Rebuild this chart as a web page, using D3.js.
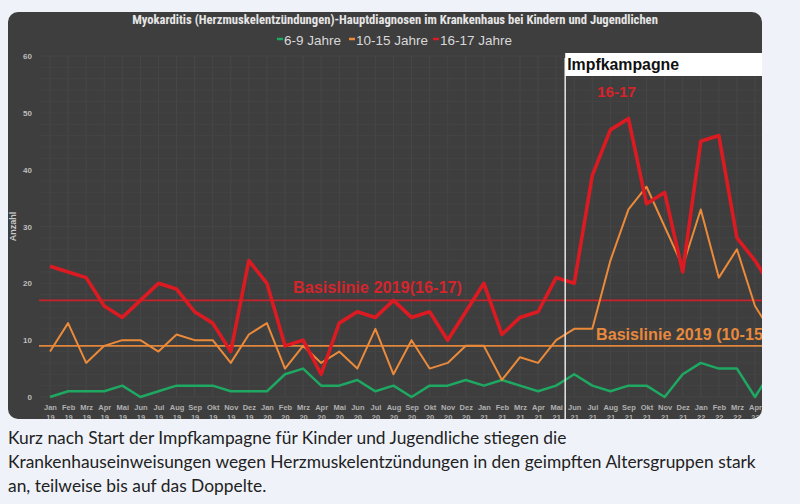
<!DOCTYPE html>
<html><head><meta charset="utf-8">
<script src="https://cdn.jsdelivr.net/npm/d3@7"></script>
<style>
html,body{margin:0;padding:0;background:#eff3f9;}
svg{display:block;}
</style></head>
<body>
<svg id="c" width="800" height="504"></svg>
<script>
const monthLabels = ["Jan","Feb","Mrz","Apr","Mai","Jun","Jul","Aug","Sep","Okt","Nov","Dez",
 "Jan","Feb","Mrz","Apr","Mai","Jun","Jul","Aug","Sep","Okt","Nov","Dez",
 "Jan","Feb","Mrz","Apr","Mai","Jun","Jul","Aug","Sep","Okt","Nov","Dez",
 "Jan","Feb","Mrz","Apr","Mai"];
const yearLabels = ["19","19","19","19","19","19","19","19","19","19","19","19",
 "20","20","20","20","20","20","20","20","20","20","20","20",
 "21","21","21","21","21","21","21","21","21","21","21","21",
 "22","22","22","22","22"];
const age6_9   = [0,1,1,1,2,0,1,2,2,2,1,1, 1,4,5,2,2,3,1,2,0,2,2,3, 2,3,2,1,2,4,2,1,2,2,0,4, 6,5,5,0,5];
const age10_15 = [8,13,6,9,10,10,8,11,10,10,6,11, 13,5,9,6,8,5,12,4,10,5,6,9, 9,3,7,6,10,12,12,24,33,37,30,23, 33,21,26,16,11];
const age16_17 = [23,22,21,16,14,17,20,19,15,13,8,24, 20,9,10,4,13,15,14,17,14,15,10,15, 20,11,14,15,21,20,39,47,49,34,36,22, 45,46,28,24,19];
const baseline16_17 = 17;
const baseline10_15 = 9;
const yTicks = [0,10,20,30,40,50,60];
const seriesNames = ["6-9 Jahre","10-15 Jahre","16-17 Jahre"];
const campaignIndex = 28.5; // between Mai 21 and Jun 21

const svg = d3.select("#c");
const panel = {x0:8,y0:12,x1:762,y1:419};
const colors = {green:"#1ea862", orange:"#ec8a3a", red:"#dc1a22"};

const x = d3.scaleLinear().domain([0,39]).range([50,755]);
const y = d3.scaleLinear().domain([0,60]).range([397,56]);

function fitWidth(sel, size, target){
  sel.attr("font-size", size);
  const w = sel.node().getComputedTextLength();
  sel.attr("font-size", size*target/w);
}

// panel
svg.append("rect").attr("x",panel.x0).attr("y",panel.y0).attr("width",panel.x1-panel.x0).attr("height",panel.y1-panel.y0)
  .attr("rx",10).attr("fill","#3e3e3e");
svg.append("clipPath").attr("id","pc").append("rect")
  .attr("x",panel.x0).attr("y",panel.y0).attr("width",panel.x1-panel.x0).attr("height",panel.y1-panel.y0).attr("rx",10);
const g = svg.append("g").attr("clip-path","url(#pc)");

// faint grid
const idx = d3.range(monthLabels.length);
g.append("g").selectAll("line").data(idx).join("line")
  .attr("x1",d=>x(d)).attr("x2",d=>x(d)).attr("y1",y(60)).attr("y2",y(0))
  .attr("stroke","#474747").attr("stroke-width",1);
g.append("g").selectAll("line").data(d3.range(0,61,2)).join("line")
  .attr("x1",40).attr("x2",panel.x1).attr("y1",d=>y(d)).attr("y2",d=>y(d))
  .attr("stroke","#444").attr("stroke-width",1);

// title
const title = svg.append("text").attr("x",395).attr("y",24).attr("text-anchor","middle")
  .attr("font-family","'Liberation Sans Narrow','Roboto Condensed',sans-serif").attr("font-weight","bold")
  .attr("fill","#e6e6e6")
  .text("Myokarditis (Herzmuskelentzündungen)-Hauptdiagnosen im Krankenhaus bei Kindern und Jugendlichen");
fitWidth(title, 11, 526);

// legend
const legCols=[colors.green,colors.orange,colors.red];
const legX=[277,349,433];
const leg = svg.append("g");
seriesNames.forEach((n,i)=>{
  leg.append("line").attr("x1",legX[i]).attr("x2",legX[i]+6).attr("y1",39).attr("y2",39)
    .attr("stroke",legCols[i]).attr("stroke-width",2.5);
  leg.append("text").attr("x",legX[i]+7).attr("y",44.5).attr("font-family","'Liberation Sans Narrow',sans-serif")
    .attr("font-size",13.5).attr("fill","#d8d8d8").text(n);
});

// y axis
const yAxis = d3.axisLeft(y).tickValues(yTicks).tickSize(0).tickPadding(0);
const ya = svg.append("g").attr("transform","translate(32,0)").call(yAxis);
ya.select(".domain").remove();
ya.selectAll("text").attr("font-family","'Liberation Sans',Arial,sans-serif").attr("font-weight","bold")
  .attr("font-size",8).attr("fill","#bdbdbd").attr("dy","0.32em");
svg.append("text").attr("transform","translate(16,"+y(30)+") rotate(-90)").attr("text-anchor","middle")
  .attr("font-family","'Liberation Sans',Arial,sans-serif").attr("font-weight","bold").attr("font-size",9)
  .attr("fill","#c8c8c8").text("Anzahl");

// x axis
const xAxis = d3.axisBottom(x).tickValues(idx).tickSize(0).tickPadding(0).tickFormat(d=>monthLabels[d]);
const xa = g.append("g").attr("transform","translate(0,405)").call(xAxis);
xa.select(".domain").remove();
xa.selectAll("text").attr("font-family","'Liberation Sans',Arial,sans-serif").attr("font-weight","bold")
  .attr("font-size",7.5).attr("fill","#b0b0b0").attr("dy","0.71em")
  .each(function(d){
    const t=d3.select(this); t.text(null);
    t.append("tspan").attr("x",0).text(monthLabels[d]);
    t.append("tspan").attr("x",0).attr("dy","10").text(yearLabels[d]);
  });

// baselines
g.append("line").attr("x1",39).attr("x2",panel.x1).attr("y1",y(baseline16_17)).attr("y2",y(baseline16_17))
  .attr("stroke","#c8232b").attr("stroke-width",1.6);
g.append("line").attr("x1",39).attr("x2",panel.x1).attr("y1",y(baseline10_15)).attr("y2",y(baseline10_15))
  .attr("stroke","#e0873c").attr("stroke-width",1.6);

// lines
const line = d3.line().x((d,i)=>x(i)).y(d=>y(d));
g.append("path").datum(age6_9).attr("d",line).attr("fill","none").attr("stroke",colors.green).attr("stroke-width",2.5).attr("stroke-linejoin","round");
g.append("path").datum(age10_15).attr("d",line).attr("fill","none").attr("stroke",colors.orange).attr("stroke-width",2).attr("stroke-linejoin","round");
g.append("path").datum(age16_17).attr("d",line).attr("fill","none").attr("stroke",colors.red).attr("stroke-width",3.6).attr("stroke-linejoin","round");

// campaign marker
const cx = x(campaignIndex);
g.append("line").attr("x1",cx).attr("x2",cx).attr("y1",58).attr("y2",panel.y1).attr("stroke","#e8e8e8").attr("stroke-width",1.5);
g.append("rect").attr("x",cx).attr("y",53).attr("width",panel.x1-cx).attr("height",23).attr("fill","#ffffff");
const imp = g.append("text").attr("x",cx+2).attr("y",70).attr("font-family","'Liberation Sans',Arial,sans-serif").attr("font-weight","bold")
  .attr("fill","#111").text("Impfkampagne");
fitWidth(imp, 15, 112);
const l1617 = g.append("text").attr("x",597).attr("y",97).attr("font-family","'Liberation Sans',Arial,sans-serif").attr("font-weight","bold")
  .attr("fill","#d8222a").text("16-17");
fitWidth(l1617, 14, 39);

// baseline labels
const b1 = g.append("text").attr("x",293).attr("y",y(baseline16_17)-7).attr("font-family","'Liberation Sans',Arial,sans-serif").attr("font-weight","bold")
  .attr("fill","#d4252d").text("Basislinie 2019(16-17)");
fitWidth(b1, 13, 169);
const b2 = g.append("text").attr("x",596).attr("y",y(baseline10_15)-6).attr("font-family","'Liberation Sans',Arial,sans-serif").attr("font-weight","bold")
  .attr("fill","#e8893c").text("Basislinie 2019 (10-15");
fitWidth(b2, 13, 167);
b2.text("Basislinie 2019 (10-15)");

// caption
const cap = ["Kurz nach Start der Impfkampagne für Kinder und Jugendliche stiegen die",
 "Krankenhauseinweisungen wegen Herzmuskelentzündungen in den geimpften Altersgruppen stark",
 "an, teilweise bis auf das Doppelte."];
const capT = svg.append("g");
cap.forEach((c,i)=>{
  capT.append("text").attr("x",8).attr("y",444+i*24).attr("font-family","Lato,'Noto Sans',sans-serif")
    .attr("font-size",15).attr("fill","#222").text(c);
});
{ const n = capT.selectAll("text").nodes()[1]; const w=n.getComputedTextLength(); capT.selectAll("text").attr("font-size",15*748/w); }
</script>
</body></html>
